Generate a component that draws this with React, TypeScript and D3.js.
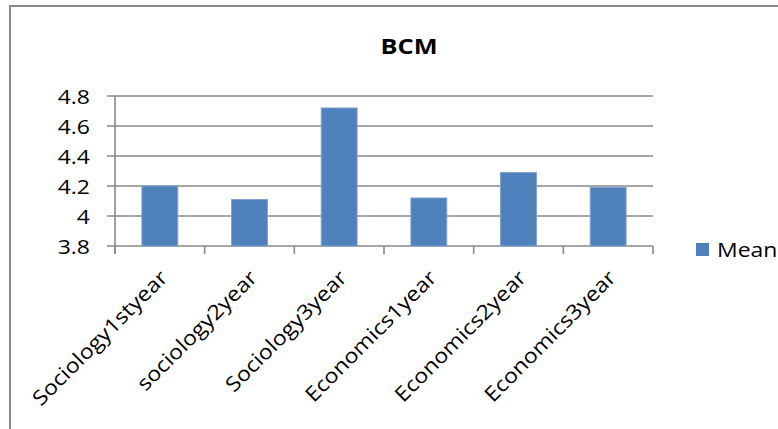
import React from "react";
import * as d3 from "d3";

const categories = [
  "Sociology1styear",
  "sociology2year",
  "Sociology3year",
  "Economics1year",
  "Economics2year",
  "Economics3year",
];
const meanValues = [4.2, 4.11, 4.72, 4.12, 4.29, 4.19];
const yTicks = [3.8, 4, 4.2, 4.4, 4.6, 4.8];
const seriesName = "Mean";
const title = "BCM";

const W = 778;
const H = 429;
const FONT = "'Open Sans', 'Liberation Sans', sans-serif";
const SX = 1.15;

export default function App() {
  const x = d3.scaleBand<string>().domain(categories).range([115, 653]).padding(0);
  const y = d3.scaleLinear().domain([3.8, 4.8]).range([246, 96]);
  const bw = x.step() * 0.4;
  const grid = "#898989";
  const barColor = "#4F81BD";

  return (
    <svg
      width={W}
      height={H}
      style={{ position: "absolute", left: 0, top: 0, background: "#fff" }}
      fontFamily={FONT}
    >
      <rect x={10} y={6} width={W + 20} height={H + 20} fill="#fff" stroke="#8c8c8c" strokeWidth={2} />
      <text
        transform={`translate(409,54) scale(${SX},1)`}
        textAnchor="middle"
        fontWeight="bold"
        fontSize={22}
        fill="#000"
      >
        {title}
      </text>
      {/* gridlines */}
      {yTicks.map((t) => (
        <line key={"g" + t} x1={107} x2={653} y1={y(t)} y2={y(t)} stroke={grid} strokeWidth={1.6} />
      ))}
      {/* y axis */}
      <line x1={115} x2={115} y1={y(4.8)} y2={y(3.8) + 8} stroke={grid} strokeWidth={1.6} />
      {/* x ticks */}
      {d3.range(categories.length + 1).map((i) => {
        const xx = 115 + i * x.step();
        return <line key={"xt" + i} x1={xx} x2={xx} y1={y(3.8)} y2={y(3.8) + 8} stroke={grid} strokeWidth={1.6} />;
      })}
      {/* y labels */}
      {yTicks.map((t) => (
        <text
          key={"yl" + t}
          transform={`translate(90,${y(t) + 7.5}) scale(${SX},1)`}
          textAnchor="end"
          fontSize={20}
          fill="#000"
        >
          {d3.format("~g")(t)}
        </text>
      ))}
      {/* bars */}
      {categories.map((c, i) => {
        const cx = (x(c) as number) + x.step() / 2;
        return (
          <rect
            key={"b" + c}
            x={cx - bw / 2}
            y={y(meanValues[i])}
            width={bw}
            height={y(3.8) - y(meanValues[i])}
            fill={barColor}
            stroke="#7FA2CF"
            strokeWidth={1}
          />
        );
      })}
      {/* category labels */}
      {categories.map((c) => {
        const cx = (x(c) as number) + x.step() / 2;
        return (
          <text
            key={"cl" + c}
            transform={`translate(${cx + 9},279) rotate(-45) scale(1.13,1)`}
            textAnchor="end"
            fontSize={20.5}
            fill="#000"
          >
            {c}
          </text>
        );
      })}
      {/* legend */}
      <rect x={696} y={243} width={13} height={13} fill={barColor} />
      <text transform={`translate(717,257) scale(${SX},1)`} fontSize={20} fill="#000">
        {seriesName}
      </text>
    </svg>
  );
}
